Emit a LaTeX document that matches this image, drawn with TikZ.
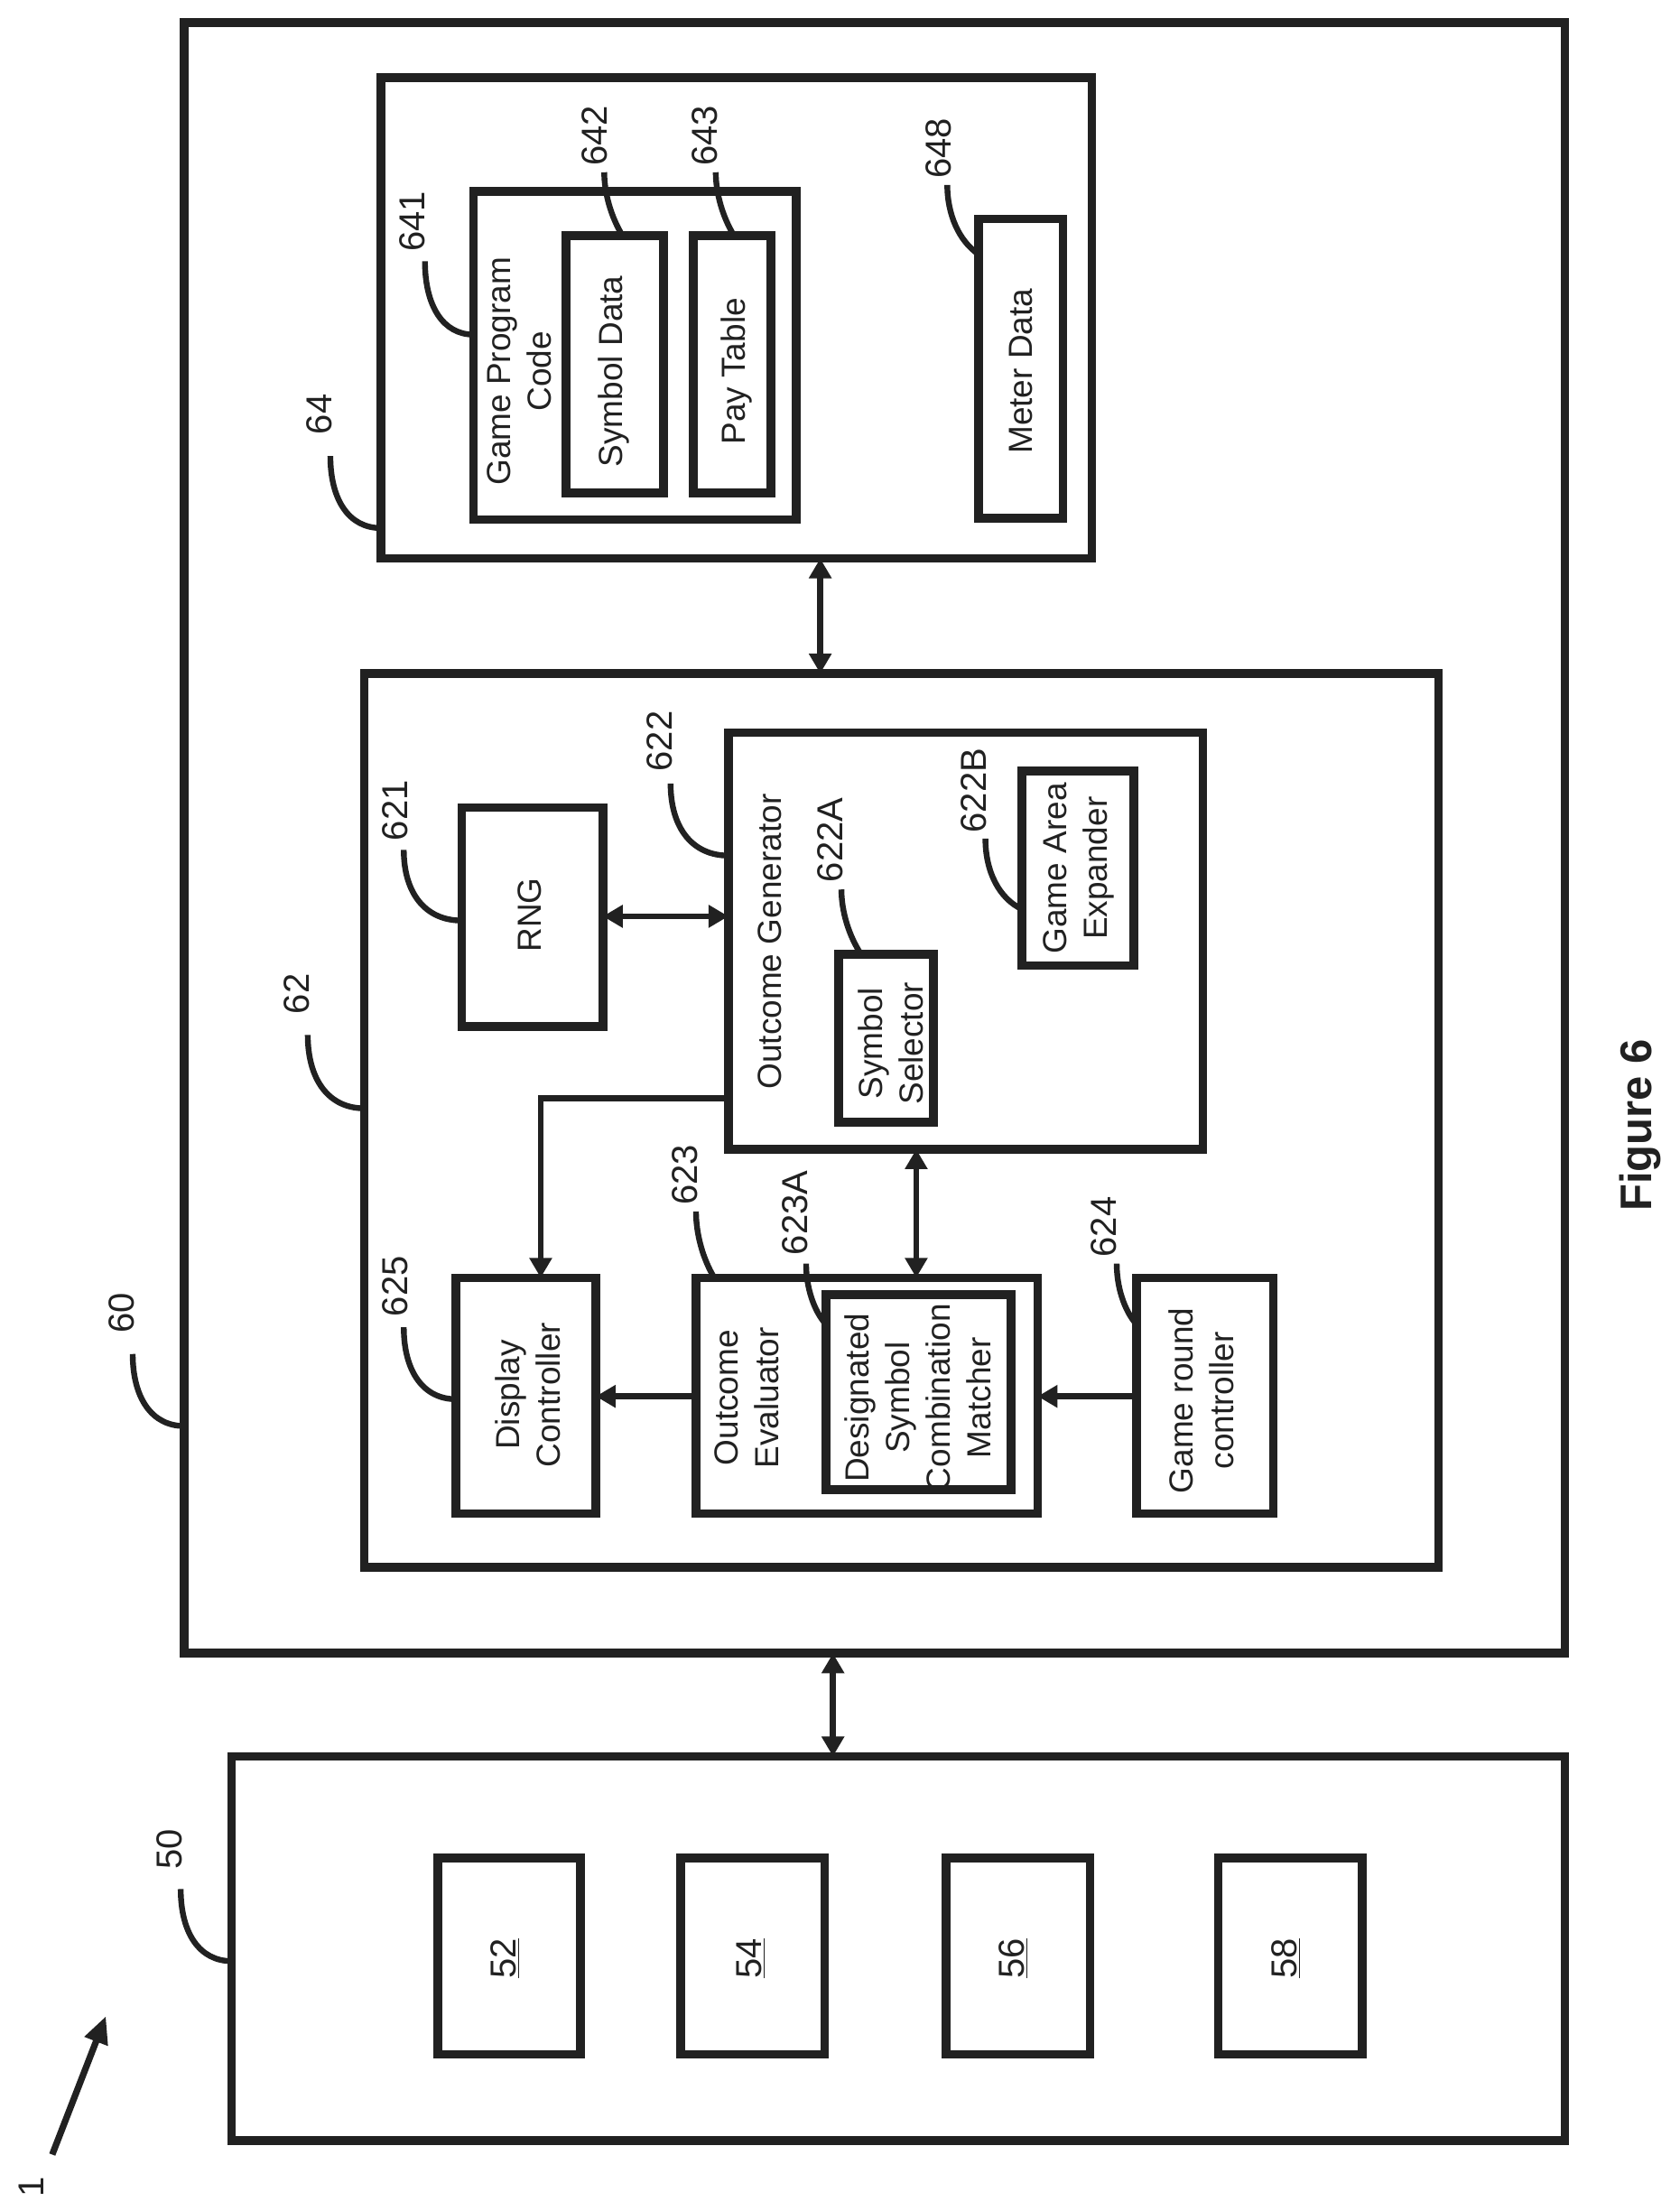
\documentclass[tikz,border=0pt]{standalone}
\usepackage{fontspec}
\setmainfont{Liberation Sans}
\usetikzlibrary{arrows.meta,calc}
\definecolor{ink}{gray}{0.13}
\tikzset{
  box/.style={draw=ink,line width=4.8pt,fill=none,inner sep=0pt,outer sep=0pt},
  txt/.style={rotate=90,align=center,text=ink,font=\fontsize{18.5}{22.5}\selectfont,inner sep=0pt},
  num/.style={rotate=90,text=ink,font=\fontsize{20}{24}\selectfont,inner sep=0pt},
  ldr/.style={draw=ink,line width=3.2pt},
  conn/.style={draw=ink,line width=3.4pt},
  dbl/.style={conn,{Triangle[length=11pt,width=12pt]}-{Triangle[length=11pt,width=12pt]}},
  sgl/.style={conn,-{Triangle[length=11pt,width=12pt]}}
}
\newcommand\bx[5]{\node[box,minimum width={(#4-#2)*0.782pt},minimum height={(#5-#3)*0.782pt}] (#1) at ({(#2+#4)/2},{(#3+#5)/2}) {};}
\newcommand\ldr[6]{\coordinate (#1) at (#2,#3); \draw[ldr] (#1) .. controls ($(#1)!0.62!(#4,#5)$) and ($(#6)!0.62!(#4,#5)$) .. (#6);}
\begin{document}
\begin{tikzpicture}[x=0.782pt,y=-0.782pt]
\useasboundingbox (0,0) rectangle (1190,1566);
% boxes
\bx{b60}{130.4}{16}{1108.5}{1171}
\bx{b64}{269.7}{55}{773.5}{395.5}
\bx{b641}{335.5}{135.5}{564}{368}
\bx{b642}{401}{167}{470}{349}
\bx{b643}{491}{167}{546}{349}
\bx{b648}{693}{155}{753}{367}
\bx{b62}{258}{477}{1019}{1110}
\bx{b621}{327}{572}{427}{727}
\bx{b622}{516}{519}{852}{814}
\bx{b622A}{594}{676}{661}{795}
\bx{b622B}{724}{546}{803}{684}
\bx{b623}{493}{905}{735}{1072}
\bx{b623A}{585}{917}{716}{1055}
\bx{b624}{805}{905}{902}{1072}
\bx{b625}{323}{905}{422}{1072}
\bx{b50}{164}{1244}{1108.5}{1516}
\bx{b52}{310}{1316}{411}{1455}
\bx{b54}{482}{1316}{584}{1455}
\bx{b56}{670}{1316}{772}{1455}
\bx{b58}{863}{1316}{965}{1455}
% box texts
\node[txt] (tGPC) at (368,263) {Game Program\\Code};
\node[txt] (tSD) at (435,263) {Symbol Data};
\node[txt] (tPT) at (522,263) {Pay Table};
\node[txt] (tMD) at (723,263) {Meter Data};
\node[txt] (tRNG) at (375,648) {RNG};
\node[txt] (tOG) at (545,667) {Outcome Generator};
\node[txt] (tSS) at (631,739) {Symbol\\Selector};
\node[txt] (tGAE) at (764,615) {Game Area\\Expander};
\node[txt] (tOE) at (529,990) {Outcome\\Evaluator};
\node[txt] (tDSCM) at (650,990) {Designated\\Symbol\\Combination\\Matcher};
\node[txt] (tGRC) at (851,992) {Game round\\controller};
\node[txt] (tDC) at (374,988) {Display\\Controller};
\node[num] (t52) at (358,1387) {\underline{52}};
\node[num] (t54) at (532,1387) {\underline{54}};
\node[num] (t56) at (718,1387) {\underline{56}};
\node[num] (t58) at (911,1387) {\underline{58}};
% reference numbers
\node[num] (n64) at (226,293.5) {64};
\node[num] (n641) at (292,157) {641};
\node[num] (n642) at (421,96) {642};
\node[num] (n643) at (499,96) {643};
\node[num] (n648) at (665,105) {648};
\node[num] (n62) at (210,704) {62};
\node[num] (n60) at (86,930) {60};
\node[num] (n621) at (280,574) {621};
\node[num] (n622) at (467,525) {622};
\node[num] (n622A) at (588,595) {622A};
\node[num] (n622B) at (690,560) {622B};
\node[num] (n623) at (485,832) {623};
\node[num] (n623A) at (563,859) {623A};
\node[num] (n624) at (782,869) {624};
\node[num] (n625) at (280,911) {625};
\node[num] (n50) at (120,1310) {50};
\node[num] (n1) at (22,1549) {1};
\node[rotate=90,anchor=base,text=ink,inner sep=0pt,font=\fontsize{24.5}{28}\bfseries\selectfont] (fig) at (1170,797) {Figure 6};
% leaders
\ldr{s50}{128}{1338}{128}{1389}{b50.west |- 0,1389}
\ldr{s60}{94}{959}{94}{1010}{b60.west |- 0,1010}
\ldr{s64}{234}{323}{234}{374}{b64.west |- 0,374}
\ldr{s62}{218}{733}{218}{785}{b62.west |- 0,785}
\ldr{s641}{301}{185}{301}{237}{b641.west |- 0,237}
\ldr{s642}{428}{122}{428}{146}{b642.north -| 441,0}
\ldr{s643}{507}{122}{507}{146}{b643.north -| 520,0}
\ldr{s648}{671}{131}{671}{165}{b648.west |- 0,180}
\ldr{s621}{286}{602}{286}{652}{b621.west |- 0,652}
\ldr{s622}{475}{555}{475}{606}{b622.west |- 0,606}
\ldr{s622A}{596}{630}{596}{655}{b622A.north -| 610,0}
\ldr{s622B}{698}{594}{698}{632}{b622B.west |- 0,644}
\ldr{s623}{493}{858}{493}{884}{b623.north -| 506,0}
\ldr{s623A}{571}{895}{571}{922}{b623A.west |- 0,938}
\ldr{s624}{791}{895}{791}{922}{b624.west |- 0,938}
\ldr{s625}{286}{940}{286}{991}{b625.west |- 0,991}
% connectors
\draw[dbl] (b64.south -| 581,0) -- (b62.north -| 581,0);
\draw[dbl] (b60.south -| 590,0) -- (b50.north -| 590,0);
\draw[dbl] (b621.east |- 0,649) -- (b622.west |- 0,649);
\draw[sgl] (b622.west |- 0,778) -| (b625.north -| 383,0);
\draw[dbl] (b622.south -| 649,0) -- (b623.north -| 649,0);
\draw[sgl] (b623.west |- 0,989) -- (b625.east |- 0,989);
\draw[sgl] (b624.west |- 0,989) -- (b623.east |- 0,989);
\coordinate (arrTail) at (37,1526);
\coordinate (arrTip) at (75,1428);
\draw[conn,line width=3.6pt,-{Triangle[length=15pt,width=13pt]}] (arrTail) -- (arrTip);
\end{tikzpicture}
\end{document}
